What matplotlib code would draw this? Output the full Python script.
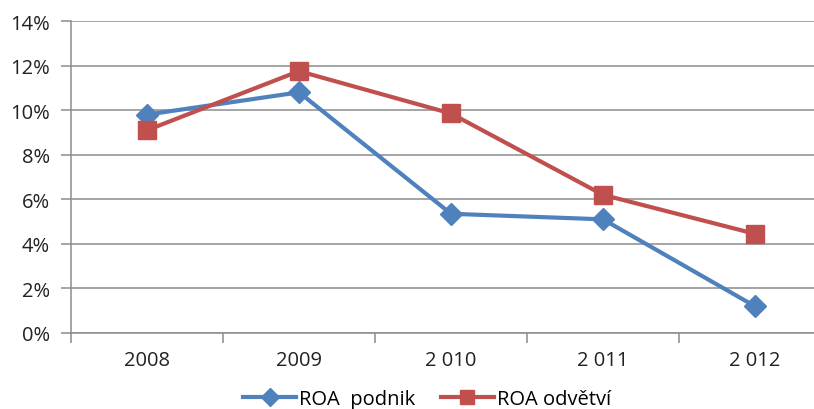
import numpy as np
import matplotlib.pyplot as plt
from matplotlib.ticker import FixedLocator, PercentFormatter

years = ['2008', '2009', '2 010', '2 011', '2 012']
roa_podnik = [9.8, 10.8, 5.35, 5.1, 1.2]
roa_odvetvi = [9.1, 11.75, 9.85, 6.2, 4.45]

blue = '#4F81BD'
red = '#C0504D'
grid = '#8C8C8C'

plt.rcParams['font.family'] = ['Open Sans', 'DejaVu Sans']

fig = plt.figure(figsize=(8.14, 4.10), dpi=100)
# plot area runs past the right edge of the figure
ax = fig.add_axes([71 / 814, 76 / 410, 760 / 814, 312 / 410])

x = np.arange(len(years))
ax.plot(x, roa_podnik, color=blue, lw=3, marker='D', ms=11,
        label='ROA  podnik', zorder=3)
ax.plot(x, roa_odvetvi, color=red, lw=3, marker='s', ms=13,
        label='ROA odvětví', zorder=3)

ax.set_xlim(-0.5, len(years) - 0.5)
ax.set_ylim(0, 14)
ax.set_yticks(np.arange(0, 15, 2))
ax.yaxis.set_major_formatter(PercentFormatter(decimals=0))
ax.yaxis.grid(True, color=grid, lw=1.1)
ax.set_axisbelow(True)

# boundary ticks between categories, labels centred on categories
ax.xaxis.set_major_locator(FixedLocator(np.arange(-0.5, len(years), 1.0)))
ax.xaxis.set_minor_locator(FixedLocator(x))
ax.set_xticklabels([], minor=False)
ax.set_xticklabels(years, minor=True)
ax.tick_params(axis='x', which='major', length=7, color=grid, width=1.1)
ax.tick_params(axis='x', which='minor', length=0, pad=12, labelsize=14.5,
               labelcolor='#222222')
ax.tick_params(axis='y', length=7, color=grid, width=1.1, pad=8,
               labelsize=14.5, labelcolor='#222222')

for side in ['top', 'right']:
    ax.spines[side].set_visible(False)
for side in ['left', 'bottom']:
    ax.spines[side].set_color(grid)
    ax.spines[side].set_linewidth(1.1)

fig.legend(loc='center', bbox_to_anchor=(427 / 814, 1 - 400 / 410), ncol=2,
           frameon=False, fontsize=14.5, handlelength=2.6, handletextpad=0.15,
           columnspacing=1.3, markerscale=0.8, borderpad=0.1)

fig.savefig('out.png', dpi=100)
